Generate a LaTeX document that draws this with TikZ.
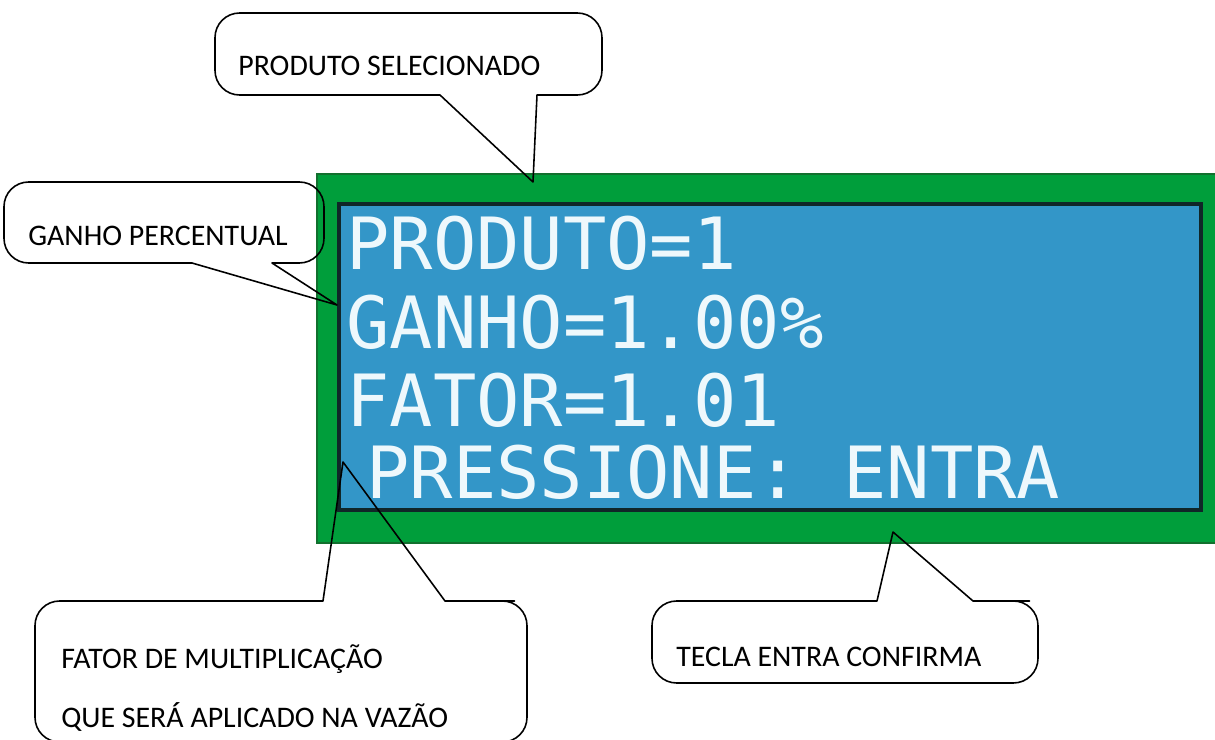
\documentclass[tikz,border=0pt]{standalone}
\usepackage{fontspec}
\setmainfont{Carlito}
\newfontfamily\lcdfont{DejaVu Sans Mono}
\definecolor{boardgreen}{RGB}{0, 158, 59}
\definecolor{boardedge}{RGB}{18, 112, 46}
\definecolor{lcdblue}{RGB}{51, 150, 200}
\definecolor{lcdframe}{RGB}{16, 38, 40}
\definecolor{lcdtext}{RGB}{238, 248, 252}
\usepackage{tikz}

\tikzset{
  callout/.style={draw=black, line width=0.9pt, line join=round},
  calltext/.style={font=\fontsize{17}{20}\selectfont, anchor=base west, inner sep=0pt},
  lcdline/.style={font=\lcdfont\fontsize{41}{48}\selectfont, text=lcdtext, anchor=base west, inner sep=0pt},
}

\begin{document}
\begin{tikzpicture}[x=0.02cm, y=-0.02cm]
    \useasboundingbox (0,0) rectangle (1215,740);

    % === Display board ===
    \fill[boardgreen] (317,174) rectangle (1216,543);
    \draw[boardedge, line width=0.6pt] (1216,174) -- (317,174) -- (317,543) -- (1216,543);
    % Screen
    \filldraw[fill=lcdblue, draw=lcdframe, line width=2.4pt] (339,204) rectangle (1201,510);
    % Screen lines
    \node[lcdline] (linProd)  at (346,270) {PRODUTO=1};
    \node[lcdline] (linGanho) at (346,348) {GANHO=1.00\%};
    \node[lcdline] (linFator) at (346,426) {FATOR=1.01};
    \node[lcdline] (linTecla) at (366,498) {PRESSIONE: ENTRA};

    % === Callout tips ===
    \coordinate (selTip)   at (533,182);
    \coordinate (ganhoTip) at (337,305);
    \coordinate (fatorTip) at (343,462);
    \coordinate (teclaTip) at (893,532);

    % === Callout: produto (top) ===
    \draw[callout] (570,95) [rounded corners=14] -- (602,95) -- (602,13) -- (215,13) -- (215,95)
        -- (300,95) [sharp corners] -- (440,95) -- (selTip) -- (537,95) -- cycle;
    \node[calltext] (sel) at (238,76) {PRODUTO SELECIONADO};

    % === Callout: ganho (left) ===
    \draw[callout] (295,263) [rounded corners=14] -- (324,263) -- (324,182) -- (4,182) -- (4,263)
        -- (100,263) [sharp corners] -- (192,263) -- (ganhoTip) -- (272,263) -- cycle;
    \node[calltext] (ganho) at (28,246) {GANHO PERCENTUAL};

    % === Callout: fator (bottom left) ===
    \draw[callout] (150,601) [rounded corners=14] -- (35,601) -- (35,742) -- (527,742) -- (527,601)
        -- (490,601) [sharp corners] -- (445,601) -- (fatorTip) -- (323,601) -- cycle;
    \node[calltext] (fator) at (61,668) {FATOR DE MULTIPLICAÇÃO};
    \node[calltext] (vazao) at (61,727) {QUE SERÁ APLICADO NA VAZÃO};

    % === Callout: tecla (bottom right) ===
    \draw[callout] (720,601) [rounded corners=14] -- (652,601) -- (652,683) -- (1038,683) -- (1038,601)
        -- (1005,601) [sharp corners] -- (973,601) -- (teclaTip) -- (877,601) -- cycle;
    \node[calltext] (tecla) at (676,666) {TECLA ENTRA CONFIRMA};
\end{tikzpicture}
\end{document}
